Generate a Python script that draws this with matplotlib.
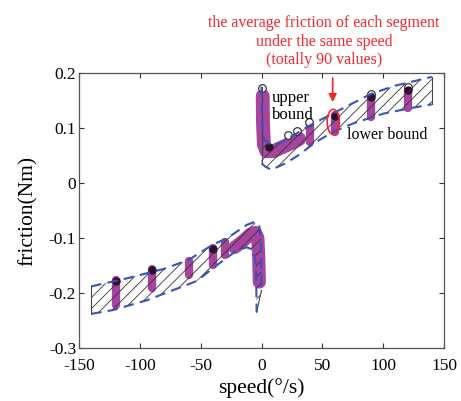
import matplotlib
matplotlib.use("Agg")
import matplotlib.pyplot as plt
from matplotlib.patches import Ellipse

plt.rcParams['font.family'] = ['Liberation Serif', 'DejaVu Serif']
plt.rcParams['axes.unicode_minus'] = False
plt.rcParams['hatch.linewidth'] = 0.6

# ---- data ----
pos_upper_x = [0, 0.5, 2, 8, 15, 25, 40, 60, 90, 110, 140]
pos_upper_y = [0.175, 0.11, 0.08, 0.068, 0.072, 0.085, 0.105, 0.128, 0.162, 0.177, 0.193]
pos_lower_x = [0, 3, 8, 20, 30, 45, 60, 75, 100, 120, 140]
pos_lower_y = [0.036, 0.03, 0.024, 0.036, 0.05, 0.075, 0.094, 0.108, 0.126, 0.135, 0.143]

neg_upper_x = [-140, -110, -80, -60, -40, -28, -12, -6, -2, -0.5, 0]
neg_upper_y = [-0.188, -0.173, -0.156, -0.14, -0.112, -0.1, -0.076, -0.071, -0.076, -0.1, -0.195]
neg_lower_x = [-140, -122, -94, -67, -53, -40, -20, -12, -6, -4.5, -4]
neg_lower_y = [-0.238, -0.231, -0.213, -0.19, -0.178, -0.155, -0.122, -0.117, -0.122, -0.15, -0.235]

cluster_speed = [-120, -90, -60, -40, -30, 40, 60, 90, 120]
cluster_low = [-0.222, -0.19, -0.167, -0.149, -0.131, 0.075, 0.093, 0.12, 0.136]
cluster_high = [-0.177, -0.157, -0.141, -0.119, -0.108, 0.108, 0.124, 0.158, 0.17]

pos_low_speed_x = [1, 1.2, 2, 4, 10, 18, 26, 31]
pos_low_speed_y = [0.158, 0.11, 0.07, 0.058, 0.058, 0.066, 0.074, 0.08]
neg_low_speed_x = [-22, -15, -9, -5, -3, -2.2, -1.8]
neg_low_speed_y = [-0.117, -0.105, -0.093, -0.09, -0.1, -0.14, -0.18]

open_x = [0.5, 22, 29, 39, 90, 120]
open_y = [0.172, 0.088, 0.095, 0.111, 0.162, 0.174]
dark_x = [6, 60, 90, 120, -120, -90, -40]
dark_y = [0.066, 0.122, 0.157, 0.169, -0.178, -0.158, -0.12]

xticks = [-150, -100, -50, 0, 50, 100, 150]
yticks = [0.2, 0.1, 0, -0.1, -0.2, -0.3]
ytick_labels = ['0.2', '0.1', '0', '-0.1', '-0.2', '-0.3']

magenta = '#a6449f'
blue = '#3553b8'
red = '#f2282c'

fig = plt.figure(figsize=(4.61, 4.01), dpi=100)
ax = fig.add_axes([79/461, 1-348/401, (444-79)/461, (348-73)/401])

# marks under hatch
for s, lo, hi in zip(cluster_speed, cluster_low, cluster_high):
    ax.plot([s, s], [lo, hi], color=magenta, lw=6, solid_capstyle='round', zorder=2)
ax.plot(pos_low_speed_x, pos_low_speed_y, color=magenta, lw=10,
        solid_capstyle='round', solid_joinstyle='round', zorder=2)
ax.plot(neg_low_speed_x, neg_low_speed_y, color=magenta, lw=9.5,
        solid_capstyle='round', solid_joinstyle='round', zorder=2)
ax.plot(open_x, open_y, 'o', ms=5.5, mfc='white', mec='#222222', mew=0.8, zorder=3)
ax.plot(dark_x, dark_y, 'o', ms=5, color='#2a1028', zorder=3)

# hatched bands
for ux, uy, lx, ly in [(pos_upper_x, pos_upper_y, pos_lower_x, pos_lower_y),
                       (neg_upper_x, neg_upper_y, neg_lower_x, neg_lower_y)]:
    xs = list(ux) + list(lx)[::-1]
    ys = list(uy) + list(ly)[::-1]
    ax.fill(xs, ys, facecolor='none', edgecolor='#333333', hatch='///',
            linewidth=0, zorder=4)
    ax.plot([ux[-1], lx[-1]], [uy[-1], ly[-1]], color='#444444', lw=0.8, zorder=4)
    ax.plot([ux[0], lx[0]], [uy[0], ly[0]], color='#444444', lw=0.8, zorder=4)
    ax.plot(ux, uy, color=blue, lw=1.5, ls=(0, (5, 3)), zorder=5)
    ax.plot(lx, ly, color=blue, lw=1.5, ls=(0, (5, 3)), zorder=5)

# annotation
ax.add_patch(Ellipse((59, 0.111), 10, 0.046, fill=False, edgecolor=red, lw=1.2, zorder=6))
ax.annotate('', xy=(58.5, 0.142), xytext=(58.5, 0.196),
            arrowprops=dict(arrowstyle='-|>', color=red, lw=1.2, mutation_scale=12),
            annotation_clip=False, zorder=6)
ax.text(51.4, 0.257, 'the average friction of each segment\nunder the same speed\n(totally 90 values)',
        color=red, fontsize=11.5, ha='center', va='center', linespacing=1.2, clip_on=False)
ax.text(8.5, 0.139, 'upper\nbound', fontsize=12, ha='left', va='center', linespacing=1.05, zorder=7)
ax.text(70, 0.087, 'lower bound', fontsize=11.5, ha='left', va='center', zorder=7)

ax.set_xlim(-150, 150)
ax.set_ylim(-0.3, 0.2)
ax.set_xticks(xticks)
ax.set_xticklabels([str(t) for t in xticks])
ax.set_yticks(yticks)
ax.set_yticklabels(ytick_labels)
ax.tick_params(direction='in', length=3.5, width=0.8, top=True, right=True,
               labelsize=12.5, colors='#333333', labelcolor='black')
ax.tick_params(axis='y', pad=2)
ax.tick_params(axis='x', pad=7)
for sp in ax.spines.values():
    sp.set_color('#555555')
    sp.set_linewidth(0.9)
ax.set_xlabel('speed(°/s)', fontsize=15.5, labelpad=3)
ax.set_ylabel('friction(Nm)', fontsize=15.5, labelpad=8)

fig.savefig('out.png', dpi=100)
